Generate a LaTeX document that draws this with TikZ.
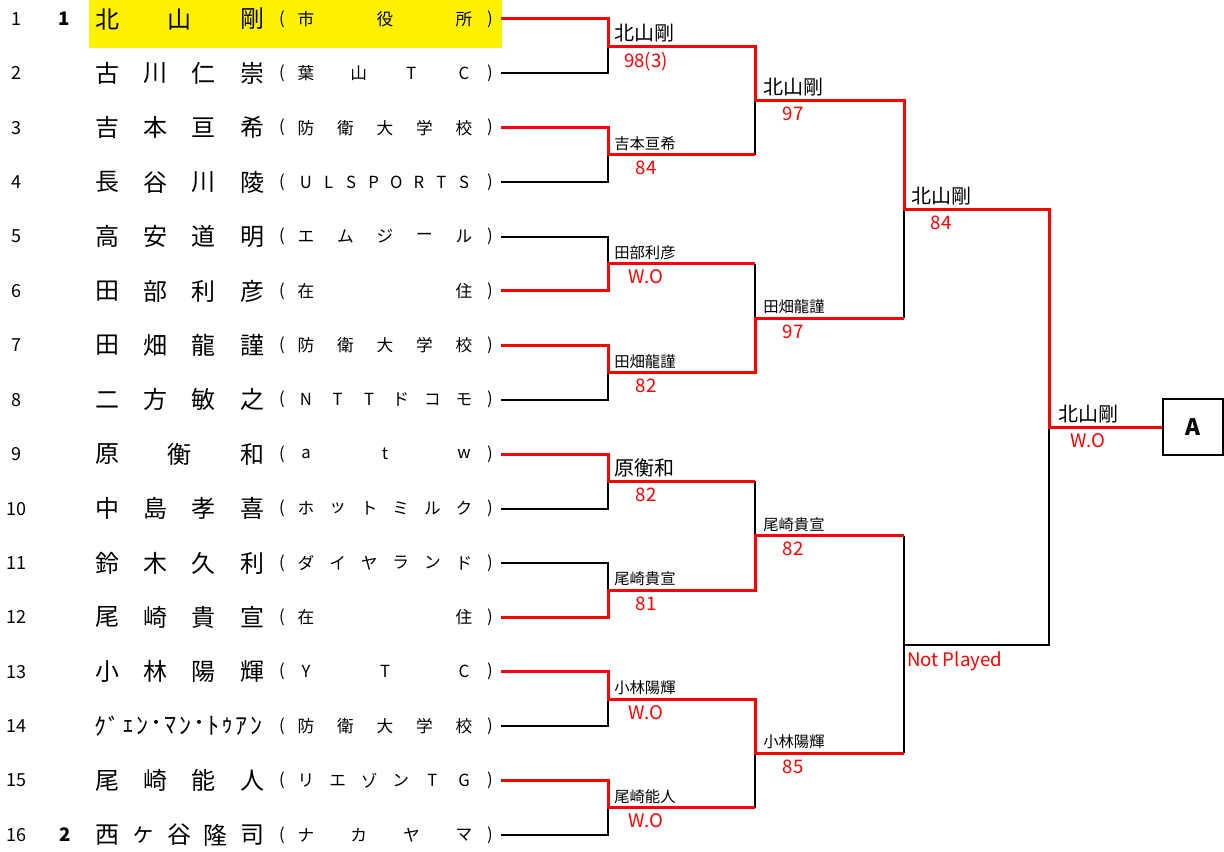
\documentclass[tikz,border=0pt]{standalone}
\usepackage{fontspec}
\setmainfont{Noto Sans CJK JP}
\usepackage{tikz}

% characters spread evenly between two centres (distributed cells)
\newcommand{\spreadtext}[6]{%
  \edef\spreadlist{#6}%
  \foreach \ch [count=\k] in \spreadlist {\xdef\spreadn{\k}}%
  \foreach \ch [count=\k] in \spreadlist {%
    \node[#1] (#2-\k) at ({#3+(#4-#3)*(\k-1)/(\spreadn-1)}, #5) {\ch};
  }%
}

\begin{document}
\begin{tikzpicture}[
  x=0.75pt, y=-0.75pt,
  every node/.style={inner sep=0pt},
  namech/.style={font=\fontsize{18}{18}\selectfont},
  affch/.style={font=\fontsize{12.5}{12.5}\selectfont},
  rownum/.style={font=\fontsize{13.5}{13.5}\selectfont},
  seed/.style={font=\fontsize{14}{14}\selectfont\bfseries},
  winbig/.style={font=\fontsize{15}{15}\selectfont, anchor=south west},
  winsmall/.style={font=\fontsize{11.5}{11.5}\selectfont, anchor=south west},
  score/.style={font=\fontsize{14}{14}\selectfont, text=red, anchor=north},
  win/.style={draw=red, line width=2.25pt},
  lose/.style={draw=black, line width=1.5pt},
  champbox/.style={draw, line width=1.5pt, minimum width=45pt, minimum height=42pt,
                   font=\fontsize{17}{17}\selectfont\bfseries}
]
  \useasboundingbox (0,0) rectangle (1224,852);

  % --- seed 1 highlight ---
  \fill[yellow] (89,0) rectangle (502,48);

  % --- entry list ---
  \foreach \i/\nm/\aff in {
    1/{北,山,剛}/{市,役,所},
    2/{古,川,仁,崇}/{葉,山,T,C},
    3/{吉,本,亘,希}/{防,衛,大,学,校},
    4/{長,谷,川,陵}/{U,L,S,P,O,R,T,S},
    5/{高,安,道,明}/{エ,ム,ジ,ー,ル},
    6/{田,部,利,彦}/{在,住},
    7/{田,畑,龍,謹}/{防,衛,大,学,校},
    8/{二,方,敏,之}/{N,T,T,ド,コ,モ},
    9/{原,衡,和}/{a,t,w},
    10/{中,島,孝,喜}/{ホ,ッ,ト,ミ,ル,ク},
    11/{鈴,木,久,利}/{ダ,イ,ヤ,ラ,ン,ド},
    12/{尾,崎,貴,宣}/{在,住},
    13/{小,林,陽,輝}/{Y,T,C},
    14/{ｸ,ﾞ,ｪ,ﾝ,･,ﾏ,ﾝ,･,ﾄ,ｩ,ｱ,ﾝ}/{防,衛,大,学,校},
    15/{尾,崎,能,人}/{リ,エ,ゾ,ン,T,G},
    16/{西,ヶ,谷,隆,司}/{ナ,カ,ヤ,マ}}{
    \pgfmathsetmacro\ry{19+(\i-1)*54.4}
    \ifnum\i=14 \def\nl{100}\def\nr{256}\else\def\nl{107}\def\nr{252}\fi
    \node[rownum] (no\i) at (16,\ry) {\i};
    \spreadtext{namech}{nm\i}{\nl}{\nr}{\ry}{\nm}
    \node[affch] (lp\i) at (282,\ry) {(};
    \spreadtext{affch}{af\i}{306}{464}{\ry}{\aff}
    \node[affch] (rp\i) at (490,\ry) {)};
    \coordinate (r\i) at (501,\ry);
  }
  \node[seed] (sd1) at (64,19) {1};
  \node[seed] (sd2) at (65,835) {2};

  % --- bracket joints ---
  \foreach \m in {1,...,8} \coordinate (m\m) at (608,{19+(2*\m-1.5)*54.4});
  \foreach \k in {1,...,4} \coordinate (q\k) at (755,{19+(4*\k-2.5)*54.4});
  \foreach \j in {1,2} \coordinate (s\j) at (904,{19+(8*\j-4.5)*54.4});
  \coordinate (fin) at (1049,427);
  \node[champbox] (champ) at (1193,427) {A};

  % --- losing sides ---
  \draw[lose] (r2) -| (m1);  \draw[lose] (r4) -| (m2);
  \draw[lose] (r5) -| (m3);  \draw[lose] (r8) -| (m4);
  \draw[lose] (r10) -| (m5); \draw[lose] (r11) -| (m6);
  \draw[lose] (r14) -| (m7); \draw[lose] (r16) -| (m8);
  \draw[lose] (m2 -| q1) -- (q1);
  \draw[lose] (m3 -| q2) -- (q2);
  \draw[lose] (m5 -| q3) -- (q3);
  \draw[lose] (m8 -| q4) -- (q4);
  \draw[lose] (q2 -| s1) -- (s1);
  \draw[lose] (q3 -| s2) -- (q4 -| s2);
  \draw[lose] (s2) -| (fin);

  % --- winning paths ---
  \draw[win] (r1) -| (m1) -| (q1) -| (s1) -| (fin) -- (champ.west);
  \draw[win] (r3) -| (m2) -- (m2 -| q1);
  \draw[win] (r6) -| (m3) -- (m3 -| q2);
  \draw[win] (r7) -| (m4) -| (q2) -- (q2 -| s1);
  \draw[win] (r9) -| (m5) -- (m5 -| q3);
  \draw[win] (r12) -| (m6) -| (q3) -- (q3 -| s2);
  \draw[win] (r13) -| (m7) -| (q4) -- (q4 -| s2);
  \draw[win] (r15) -| (m8) -- (m8 -| q4);

  % --- round 1 results ---
  \path (m1) ++(6,-4) node[winbig] (lw1) {北山剛};     \path (m1) ++(38,6) node[score] (ls1) {98(3)};
  \path (m2) ++(6,-4) node[winsmall] (lw2) {吉本亘希}; \path (m2) ++(38,6) node[score] (ls2) {84};
  \path (m3) ++(6,-4) node[winsmall] (lw3) {田部利彦}; \path (m3) ++(38,6) node[score] (ls3) {W.O};
  \path (m4) ++(6,-4) node[winsmall] (lw4) {田畑龍謹}; \path (m4) ++(38,6) node[score] (ls4) {82};
  \path (m5) ++(6,-4) node[winbig] (lw5) {原衡和};     \path (m5) ++(38,6) node[score] (ls5) {82};
  \path (m6) ++(6,-4) node[winsmall] (lw6) {尾崎貴宣}; \path (m6) ++(38,6) node[score] (ls6) {81};
  \path (m7) ++(6,-4) node[winsmall] (lw7) {小林陽輝}; \path (m7) ++(38,6) node[score] (ls7) {W.O};
  \path (m8) ++(6,-4) node[winsmall] (lw8) {尾崎能人}; \path (m8) ++(38,6) node[score] (ls8) {W.O};

  % --- round 2 results ---
  \path (q1) ++(8,-4) node[winbig] (qw1) {北山剛};     \path (q1) ++(38,6) node[score] (qs1) {97};
  \path (q2) ++(8,-4) node[winsmall] (qw2) {田畑龍謹}; \path (q2) ++(38,6) node[score] (qs2) {97};
  \path (q3) ++(8,-4) node[winsmall] (qw3) {尾崎貴宣}; \path (q3) ++(38,6) node[score] (qs3) {82};
  \path (q4) ++(8,-4) node[winsmall] (qw4) {小林陽輝}; \path (q4) ++(38,6) node[score] (qs4) {85};

  % --- semi-finals and final ---
  \path (s1) ++(7,-4) node[winbig] (sw1) {北山剛};     \path (s1) ++(37,6) node[score] (ss1) {84};
  \path (s2) ++(3,7) node[score, anchor=north west] (ss2) {Not Played};
  \path (fin) ++(9,-4) node[winbig] (fw) {北山剛};     \path (fin) ++(39,6) node[score] (fs) {W.O};

\end{tikzpicture}
\end{document}
